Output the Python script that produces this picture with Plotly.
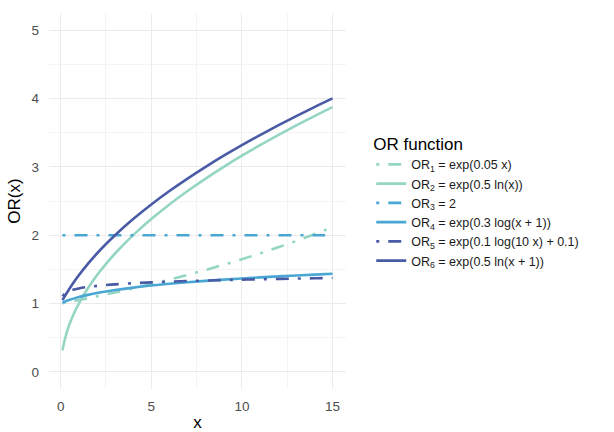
import plotly.graph_objects as go

x = [0.1, 0.25, 0.5, 0.75, 1, 1.5, 2, 2.5, 3, 4, 5, 6, 7, 8, 9, 10, 11, 12, 13, 14, 15]

or1 = [1.0050, 1.0126, 1.0253, 1.0382, 1.0513, 1.0779, 1.1052, 1.1331, 1.1618, 1.2214, 1.2840,
       1.3499, 1.4191, 1.4918, 1.5683, 1.6487, 1.7333, 1.8221, 1.9155, 2.0138, 2.1170]
or2 = [0.3162, 0.5000, 0.7071, 0.8660, 1.0000, 1.2247, 1.4142, 1.5811, 1.7321, 2.0000, 2.2361,
       2.4495, 2.6458, 2.8284, 3.0000, 3.1623, 3.3166, 3.4641, 3.6056, 3.7417, 3.8730]
or3 = [2.0] * len(x)
or4 = [1.0125, 1.0295, 1.0543, 1.0756, 1.0945, 1.1268, 1.1539, 1.1773, 1.1980, 1.2333, 1.2630,
       1.2886, 1.3112, 1.3315, 1.3499, 1.3667, 1.3823, 1.3968, 1.4103, 1.4231, 1.4351]
or5 = [1.1052, 1.1500, 1.1852, 1.2062, 1.2214, 1.2431, 1.2587, 1.2710, 1.2811, 1.2972, 1.3098,
       1.3203, 1.3291, 1.3368, 1.3437, 1.3499, 1.3555, 1.3606, 1.3653, 1.3697, 1.3738]
or6 = [1.0488, 1.1180, 1.2247, 1.3229, 1.4142, 1.5811, 1.7321, 1.8708, 2.0000, 2.2361, 2.4495,
       2.6458, 2.8284, 3.0000, 3.1623, 3.3166, 3.4641, 3.6056, 3.7417, 3.8730, 4.0000]

names = [
    "OR<sub>1</sub> = exp(0.05 x)",
    "OR<sub>2</sub> = exp(0.5 ln(x))",
    "OR<sub>3</sub> = 2",
    "OR<sub>4</sub> = exp(0.3 log(x + 1))",
    "OR<sub>5</sub> = exp(0.1 log(10 x) + 0.1)",
    "OR<sub>6</sub> = exp(0.5 ln(x + 1))",
]
series = [or1, or2, or3, or4, or5, or6]
colors = ["#95d5c3", "#95d5c3", "#4aa7d4", "#4aa7d4", "#4a5ba6", "#4a5ba6"]
dashes = ["3px,9px,13px,9px", "solid", "3px,9px,13px,9px", "solid", "3px,9px,13px,9px", "solid"]

fig = go.Figure()
for nm, ys, c, d in zip(names, series, colors, dashes):
    fig.add_trace(go.Scatter(x=x, y=ys, mode="lines", name=nm,
                             line=dict(color=c, width=2.6, dash=d, shape="spline")))

grid_major = "#ebebeb"
grid_minor = "#f4f4f4"
fig.update_layout(
    width=614, height=432,
    margin=dict(l=49, r=268, t=13, b=43),
    paper_bgcolor="white", plot_bgcolor="white",
    font=dict(family="Liberation Sans, Arial, sans-serif", color="#4d4d4d", size=13),
    showlegend=True,
    legend=dict(
        title=dict(text="OR function", font=dict(size=17, color="black")),
        font=dict(size=12.5, color="#1a1a1a"),
        x=1.085, xanchor="left", y=0.695, yanchor="top",
        itemwidth=30, tracegroupgap=0,
        bgcolor="rgba(0,0,0,0)",
    ),
    xaxis=dict(
        range=[-0.645, 15.745], tickvals=[0, 5, 10, 15],
        showgrid=True, gridcolor=grid_major, gridwidth=1.1,
        zeroline=False, showline=False, ticks="",
        minor=dict(tickvals=[2.5, 7.5, 12.5], showgrid=True, gridcolor=grid_minor, gridwidth=0.6),
        title=dict(text="x", font=dict(size=17, color="black"), standoff=6),
        tickfont=dict(size=13.5, color="#4d4d4d"),
        ticklabelstandoff=7,
        automargin=False,
    ),
    yaxis=dict(
        range=[-0.25, 5.25], tickvals=[0, 1, 2, 3, 4, 5],
        showgrid=True, gridcolor=grid_major, gridwidth=1.1,
        zeroline=False, showline=False, ticks="",
        minor=dict(tickvals=[0.5, 1.5, 2.5, 3.5, 4.5], showgrid=True, gridcolor=grid_minor, gridwidth=0.6),
        title=dict(text="OR(x)", font=dict(size=17, color="black"), standoff=6),
        tickfont=dict(size=13.5, color="#4d4d4d"),
        ticklabelstandoff=9,
        automargin=False,
    ),
)

fig.write_html("out.html")
